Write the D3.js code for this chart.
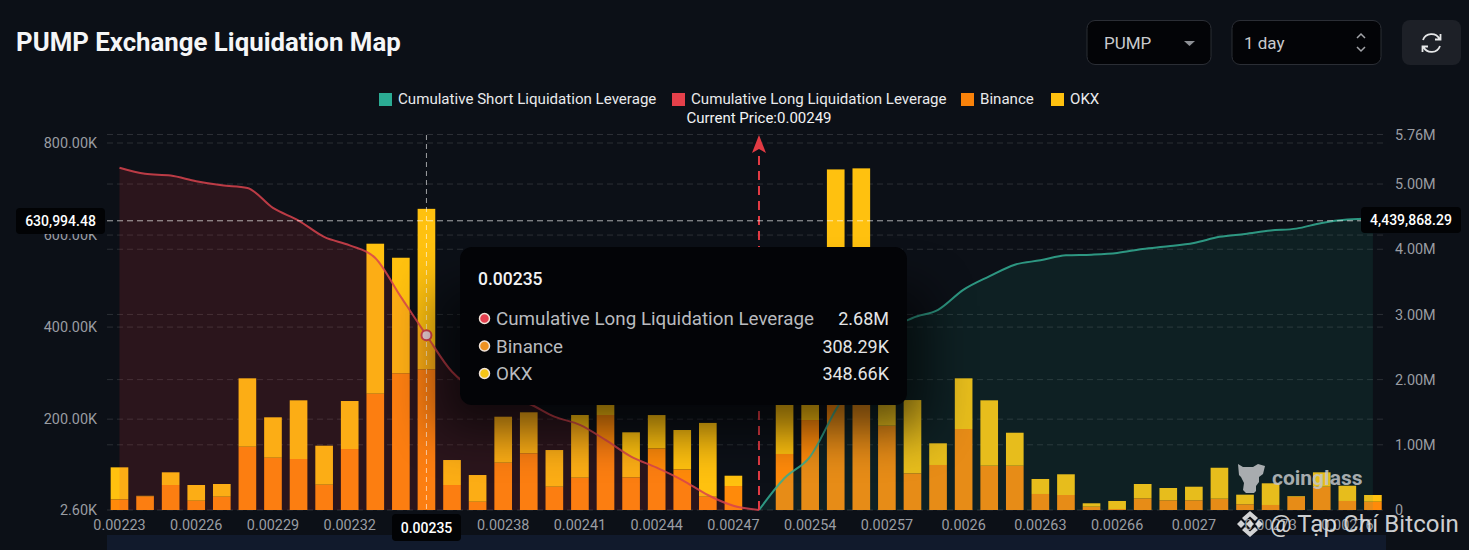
<!DOCTYPE html>
<html>
<head>
<meta charset="utf-8">
<script src="https://cdn.jsdelivr.net/npm/d3@7"></script>
<style>
  html, body { margin: 0; padding: 0; background: #0c1017; overflow: hidden; }
  svg { display: block; font-family: Roboto, sans-serif; }
</style>
</head>
<body>
<script>
// values (K for the bars, M for the cumulative lines)
const prices = ['0.00223','0.00224','0.00225','0.00226','0.00227','0.00228','0.00229','0.0023','0.00231','0.00232',
  '0.00233','0.00234','0.00235','0.00236','0.00237','0.00238','0.00239','0.0024','0.00241','0.00242',
  '0.00243','0.00244','0.00245','0.00246','0.00247','0.00249','0.00252','0.00254','0.00255','0.00256',
  '0.00257','0.00258','0.00259','0.0026','0.00261','0.00262','0.00263','0.00264','0.00265','0.00266',
  '0.00267','0.00269','0.0027','0.00271','0.00272','0.00273','0.00274','0.00275','0.00276','0.00277'];

const binance = [25.8,32.4,56.9,22.8,31.5,140.1,116.2,113.4,57.6,135.1,
  255.3,299.6,308.29,56.9,20.6,105.4,125.8,53.2,72.8,209,
  73.6,136.6,91,31.5,54.7,0,124.3,198.1,393.6,393.6,
  185.7,82.3,100.4,178.6,98.8,98.8,37.4,35.2,9.8,4.8,
  28,23.7,23.7,27.1,15,13.5,31.5,53.2,22.2,20.6];

const okx = [69.5,1,27.6,34.1,27.6,148.6,87.8,127.5,84.7,104.3,
  325.9,251.1,348.66,54.3,58,99.9,89.1,79.7,136.2,21.7,
  97.8,72.3,85.4,160.3,22.4,0,106.5,65,349,351.3,
  45,159.2,47.1,110.1,142.1,71.7,32.6,45,7.4,17.4,
  31.1,26.7,29.5,67.3,20.9,47.1,1.5,31.3,33.2,14.6];

const longPrices = prices.slice(0, 26);
const longLeverage = [5.25,5.157,5.13,5.043,4.98,4.94,4.634,4.44,4.19,4.06,
  3.866,3.27,2.68,2.12,1.83,1.72,1.63,1.433,1.306,1.075,
  .819,.65,.46,.23,.066,0];

const shortPrices = prices.slice(25);
const shortLeverage = [0,.49,.82,1.536,2.15,2.72,2.945,3.07,3.38,3.584,
  3.763,3.83,3.906,3.917,3.943,4.005,4.045,4.097,4.19,4.235,
  4.286,4.316,4.404,4.455,4.47];

const xLabels = ['0.00223','0.00226','0.00229','0.00232','0.00235','0.00238','0.00241','0.00244','0.00247',
  '0.00254','0.00257','0.0026','0.00263','0.00266','0.0027','0.00273','0.00276'];
const leftTicks = [2.6, 200, 400, 600, 800];
const rightTicks = [0, 1, 2, 3, 4, 5, 5.76];

const hoverPrice = '0.00235';
const currentPrice = '0.00249';
const hoverLeft = 630994.48 / 1000;

const width = 1469, height = 550;
const svg = d3.select('body').append('svg').attr('width', width).attr('height', height);

const defs = svg.append('defs');
defs.append('filter').attr('id', 'tipShadow')
  .attr('x', '-30%').attr('y', '-60%').attr('width', '160%').attr('height', '220%')
  .append('feGaussianBlur').attr('stdDeviation', 24);

const x = d3.scaleBand().domain(prices).range([106.7, 1385.7]).paddingInner(0.31).paddingOuter(0.155);
const yLeft = d3.scaleLinear().domain([2.6, 800]).range([510, 143]).clamp(true);
const yRight = d3.scaleLinear().domain([0, 5.76]).range([510, 134.5]);
const cx = d => x(d) + x.bandwidth() / 2;

// bottom strip
svg.append('rect').attr('x', 107).attr('y', 535).attr('width', 1279).attr('height', 15).attr('fill', '#111a2c');

// grid, both axes have their own
const grid = svg.append('g').attr('stroke', 'rgba(255,255,255,.13)').attr('stroke-dasharray', '6 4');
leftTicks.slice(1).forEach(t => grid.append('line').attr('x1', 107).attr('x2', 1386).attr('y1', yLeft(t)).attr('y2', yLeft(t)));
rightTicks.forEach(t => grid.append('line').attr('x1', 107).attr('x2', 1386).attr('y1', yRight(t)).attr('y2', yRight(t)));

// stacked bars
const rows = prices.map((p, i) => ({ price: p, binance: binance[i], okx: okx[i] }));
const stacked = d3.stack().keys(['binance', 'okx'])(rows);
const barColor = { binance: '#ff8a0a', okx: '#ffc10f' };
svg.append('g').selectAll('g').data(stacked).join('g')
  .attr('fill', d => barColor[d.key])
  .selectAll('rect').data(d => d).join('rect')
  .attr('x', d => x(d.data.price))
  .attr('width', x.bandwidth())
  .attr('y', d => yLeft(d[1]))
  .attr('height', d => yLeft(d[0]) - yLeft(d[1]));

// cumulative areas and lines
const drawCumulative = (keys, values, color, fill) => {
  const pts = keys.map((k, i) => [cx(k), yRight(values[i])]);
  svg.append('path').datum(pts).attr('fill', fill)
    .attr('d', d3.area().x(d => d[0]).y0(yRight(0)).y1(d => d[1]).curve(d3.curveMonotoneX));
  svg.append('path').datum(pts).attr('fill', 'none').attr('stroke', color).attr('stroke-width', 2).attr('stroke-opacity', .85)
    .attr('d', d3.line().curve(d3.curveMonotoneX));
};
drawCumulative(longPrices, longLeverage, '#d8434e', 'rgba(234,57,67,.14)');
drawCumulative(shortPrices, shortLeverage, '#34ae94', 'rgba(38,166,138,.11)');

// axes
const axisStyle = g => {
  g.select('.domain').remove();
  g.selectAll('line').remove();
  g.selectAll('text').attr('fill', '#9a9da3').style('font-size', '14.4px').style('font-family', 'Roboto, sans-serif');
};
svg.append('g').attr('transform', 'translate(107,0)')
  .call(d3.axisLeft(yLeft).tickValues(leftTicks).tickSize(0).tickPadding(10).tickFormat(d => d.toFixed(2) + 'K'))
  .call(axisStyle);
svg.append('g').attr('transform', 'translate(1386,0)')
  .call(d3.axisRight(yRight).tickValues(rightTicks).tickSize(0).tickPadding(9).tickFormat(d => d === 0 ? '0' : d.toFixed(2) + 'M'))
  .call(axisStyle);
svg.append('g').attr('transform', 'translate(0,510)')
  .call(d3.axisBottom(x).tickValues(xLabels).tickSize(0).tickPadding(10))
  .call(axisStyle);

// current price marker
const priceX = cx(currentPrice);
svg.append('line').attr('x1', priceX).attr('x2', priceX).attr('y1', 510).attr('y2', 150)
  .attr('stroke', '#e23b44').attr('stroke-width', 2).attr('stroke-dasharray', '9 6');
svg.append('path').attr('d', `M${priceX},135 L${priceX + 7},153 L${priceX},149 L${priceX - 7},153 Z`).attr('fill', '#e23b44');
svg.append('text').attr('x', priceX).attr('y', 123).attr('text-anchor', 'middle')
  .attr('fill', '#f2f3f4').style('font-size', '15px').text('Current Price:' + currentPrice);

// crosshair
const crossY = yLeft(hoverLeft);
svg.append('line').attr('x1', 107).attr('x2', 1386).attr('y1', crossY).attr('y2', crossY)
  .attr('stroke', 'rgba(255,255,255,.65)').attr('stroke-dasharray', '6 4');
svg.append('line').attr('x1', cx(hoverPrice)).attr('x2', cx(hoverPrice)).attr('y1', 135).attr('y2', 510)
  .attr('stroke', 'rgba(255,255,255,.6)').attr('stroke-dasharray', '5 4');
svg.append('circle').attr('cx', cx(hoverPrice)).attr('cy', yRight(longLeverage[prices.indexOf(hoverPrice)])).attr('r', 5)
  .attr('fill', '#f1d5da').attr('stroke', '#d8434e').attr('stroke-width', 2);

const badge = (bx, by, w, h, label) => {
  svg.append('rect').attr('x', bx).attr('y', by).attr('width', w).attr('height', h).attr('rx', 4).attr('fill', '#020305');
  svg.append('text').attr('x', bx + w / 2).attr('y', by + h / 2 + 5).attr('text-anchor', 'middle')
    .attr('fill', '#fff').style('font-size', '14px').style('font-weight', 500).text(label);
};
badge(16, 208, 89, 26, d3.format(',.2f')(630994.48));
badge(1361, 207, 100, 26, d3.format(',.2f')(4439868.29));
badge(392, 514, 69, 27, hoverPrice);

// title
svg.append('text').attr('x', 16).attr('y', 51).attr('fill', '#f5f6f7')
  .style('font-size', '25.8px').style('font-weight', 700).text('PUMP Exchange Liquidation Map');

// legend
const legendItems = [
  { name: 'Cumulative Short Liquidation Leverage', color: '#2bab93', sx: 379, tx: 398 },
  { name: 'Cumulative Long Liquidation Leverage', color: '#e5404a', sx: 672, tx: 691 },
  { name: 'Binance', color: '#f9820a', sx: 961, tx: 980 },
  { name: 'OKX', color: '#ffc10f', sx: 1051, tx: 1070 }
];
const legend = svg.append('g').selectAll('g').data(legendItems).join('g');
legend.append('rect').attr('x', d => d.sx).attr('y', 93).attr('width', 13).attr('height', 13).attr('fill', d => d.color);
legend.append('text').attr('x', d => d.tx).attr('y', 104).attr('fill', '#e9eaec').style('font-size', '15.1px').text(d => d.name);

// tooltip
svg.append('rect').attr('x', 440).attr('y', 290).attr('width', 487).attr('height', 140)
  .attr('fill', '#000').attr('opacity', .6).attr('filter', 'url(#tipShadow)');
svg.append('rect').attr('x', 460).attr('y', 247).attr('width', 447).attr('height', 158).attr('rx', 12).attr('fill', '#030407');
svg.append('text').attr('x', 478).attr('y', 285).attr('fill', '#f2f3f4').style('font-size', '17.5px').style('font-weight', 500).text(hoverPrice);
const hoverIndex = prices.indexOf(hoverPrice);
const tipRows = [
  { name: 'Cumulative Long Liquidation Leverage', value: longLeverage[hoverIndex].toFixed(2) + 'M', color: '#e5404f' },
  { name: 'Binance', value: binance[hoverIndex].toFixed(2) + 'K', color: '#ef9120' },
  { name: 'OKX', value: okx[hoverIndex].toFixed(2) + 'K', color: '#f5c518' }
];
const tip = svg.append('g').selectAll('g').data(tipRows).join('g')
  .attr('transform', (d, i) => `translate(0,${318.5 + i * 27.5})`);
tip.append('circle').attr('cx', 484.5).attr('r', 5).attr('fill', d => d.color).attr('stroke', '#f1e3d8').attr('stroke-width', 1.5);
tip.append('text').attr('x', 496).attr('y', 6.5).attr('fill', '#b9bbbf').style('font-size', '18.8px').text(d => d.name);
tip.append('text').attr('x', 889).attr('y', 6.5).attr('text-anchor', 'end').attr('fill', '#e4e5e6')
  .style('font-size', '18px').text(d => d.value);

// top controls
const control = (bx, w, pad, label) => {
  svg.append('rect').attr('x', bx).attr('y', 20.5).attr('width', w).attr('height', 44).attr('rx', 8)
    .attr('fill', '#030407').attr('stroke', '#2b2e35');
  svg.append('text').attr('x', bx + pad).attr('y', 49).attr('fill', '#c9cbce').style('font-size', '17px').text(label);
};
control(1087, 124, 17, 'PUMP');
control(1232, 149, 12, '1 day');
svg.append('path').attr('d', 'M1184,41 h11 l-5.5,5 Z').attr('fill', '#8d9095');
svg.append('path').attr('d', 'M1357,38 l4,-4 l4,4 M1357,47 l4,4 l4,-4').attr('fill', 'none').attr('stroke', '#a3a5a9').attr('stroke-width', 1.5);
svg.append('rect').attr('x', 1402).attr('y', 20).attr('width', 59).attr('height', 45).attr('rx', 8).attr('fill', '#1d2027');
svg.append('path').attr('d', 'M1423,40 a9,9 0 0 1 16.5,-1 M1440,46 a9,9 0 0 1 -16.5,1 M1440.5,34 v5.5 h-5.5 M1422.5,52 v-5.5 h5.5')
  .attr('fill', 'none').attr('stroke', '#e6e7e8').attr('stroke-width', 1.8);

// coinglass watermark
const mark = svg.append('g').attr('fill', '#c3c6c8').attr('fill-opacity', .85);
mark.append('path').attr('d', 'M1238,464 l5,3 h10 l5,-3 l7,2 l-2,8 l-4,3 v5 l-3,4 v5 l-2,2 h-8 l-3,-3 l1,-7 l-3,-6 l-2,-2 Z');
mark.append('text').attr('x', 1272).attr('y', 485).style('font-size', '21px').style('font-weight', 700).text('coinglass');

// source watermark
const wm = svg.append('g').attr('fill', '#e8e9ea').attr('fill-opacity', .9);
wm.append('path').attr('d', 'M1250,511 l8,7 l-3,3 l-5,-4.5 l-5,4.5 l-3,-3 Z M1250,537 l8,-7 l-3,-3 l-5,4.5 l-5,-4.5 l-3,3 Z M1250,520 l4,4 l-4,4 l-4,-4 Z M1241,520 l4,4 l-4,4 l-4,-4 Z M1259,520 l4,4 l-4,4 l-4,-4 Z');
wm.append('text').attr('x', 1270).attr('y', 532).style('font-size', '24px').style('letter-spacing', '0.1px').text('@ Tạp Chí Bitcoin');
</script>
</body>
</html>
